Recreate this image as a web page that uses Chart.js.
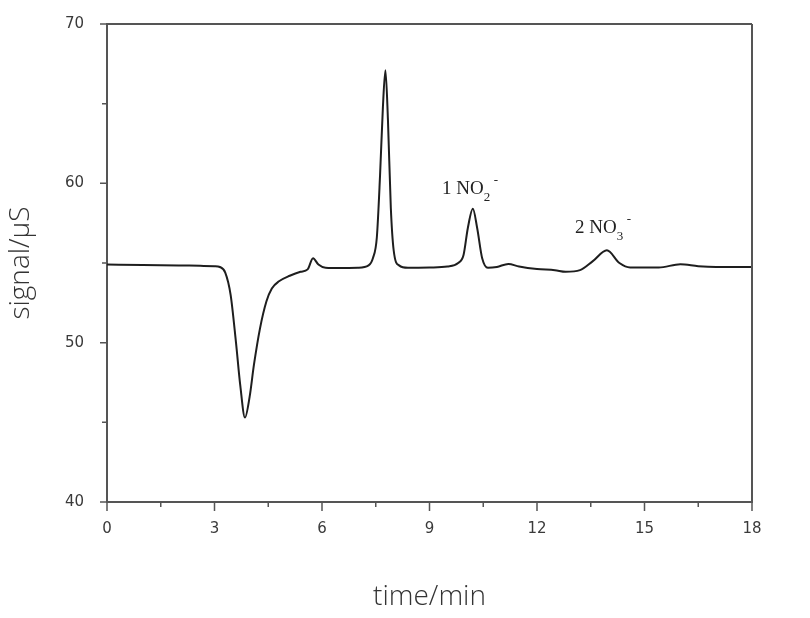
<!DOCTYPE html>
<html lang="en">
<head>
    <meta charset="UTF-8">
    <title>Ion chromatogram</title>
    <script src="https://cdn.jsdelivr.net/npm/chart.js"></script>
    <style>
        body { margin: 0; background: #fff; }
    </style>
</head>
<body>
    <canvas id="chromChart" width="810" height="618"></canvas>

    <script>
        // time (min) and signal (uS)
        const timeMin = [0, 1, 2, 2.6, 3.0, 3.15, 3.3, 3.45, 3.6, 3.72, 3.85, 3.98, 4.1, 4.27, 4.45, 4.6, 4.8, 5.1, 5.4, 5.6,
            5.75, 5.9, 6.1, 6.5, 7.0, 7.3, 7.42, 7.53, 7.62, 7.7, 7.77, 7.84, 7.92, 8.0, 8.15, 8.4, 9.0, 9.5, 9.8, 9.95,
            10.07, 10.21, 10.33, 10.47, 10.63, 10.88, 11.2, 11.5, 12.0, 12.5, 12.8, 13.2, 13.55, 13.95, 14.3, 14.6, 15.4, 16.0, 16.5, 17, 18];
        const signal = [54.9, 54.88, 54.85, 54.82, 54.8, 54.75, 54.4, 53.0, 50.0, 47.3, 45.3, 46.6, 48.6, 50.9, 52.6, 53.4, 53.85, 54.2, 54.45, 54.6,
            55.3, 54.9, 54.7, 54.68, 54.7, 54.85, 55.3, 56.6, 60.5, 64.8, 67.1, 64.0, 58.5, 55.8, 54.85, 54.7, 54.72, 54.78, 55.0, 55.5,
            57.2, 58.4, 57.2, 55.3, 54.7, 54.75, 54.94, 54.78, 54.62, 54.55, 54.45, 54.55, 55.1, 55.8, 55.0, 54.72, 54.72, 54.92, 54.8, 54.75, 54.75];

        const xTicksMajor = [0, 3, 6, 9, 12, 15, 18];
        const xTicksMinor = [1.5, 4.5, 7.5, 10.5, 13.5, 16.5];
        const yTicksMajor = [40, 50, 60, 70];
        const yTicksMinor = [45, 55, 65];

        // peak labels: number, ion, subscript, anchor (time, signal)
        const peakNum = ['1', '2'];
        const peakIon = ['NO', 'NO'];
        const peakSub = ['2', '3'];
        const peakAt = [[9.35, 59.31], [13.06, 56.875]];

        const points = timeMin.map((t, i) => ({ x: t, y: signal[i] }));

        // frame, tick marks and peak labels
        const framePlugin = {
            id: 'frame',
            afterDraw(chart) {
                const c = chart.ctx;
                const a = chart.chartArea;
                const xs = chart.scales.x, ys = chart.scales.y;
                c.save();
                c.strokeStyle = '#555';
                c.lineWidth = 2;
                c.beginPath();
                c.moveTo(a.left, a.top); c.lineTo(a.right, a.top);
                c.moveTo(a.right, a.top); c.lineTo(a.right, a.bottom);
                c.stroke();

                c.lineWidth = 1.5;
                c.beginPath();
                xTicksMajor.forEach(v => { const p = xs.getPixelForValue(v); c.moveTo(p, a.bottom); c.lineTo(p, a.bottom + 9); });
                xTicksMinor.forEach(v => { const p = xs.getPixelForValue(v); c.moveTo(p, a.bottom); c.lineTo(p, a.bottom + 5); });
                yTicksMajor.forEach(v => { const p = ys.getPixelForValue(v); c.moveTo(a.left, p); c.lineTo(a.left - 7, p); });
                yTicksMinor.forEach(v => { const p = ys.getPixelForValue(v); c.moveTo(a.left, p); c.lineTo(a.left - 5, p); });
                c.stroke();

                c.fillStyle = '#222';
                c.textBaseline = 'alphabetic';
                peakAt.forEach((pos, i) => {
                    let px = xs.getPixelForValue(pos[0]);
                    const py = ys.getPixelForValue(pos[1]);
                    c.font = '19px "Liberation Serif", serif';
                    const main = peakNum[i] + ' ' + peakIon[i];
                    c.fillText(main, px, py);
                    px += c.measureText(main).width;
                    c.font = '13px "Liberation Serif", serif';
                    c.fillText(peakSub[i], px, py + 7);
                    c.fillText('-', px + 10, py - 10);
                });
                c.restore();
            }
        };

        const ctx = document.getElementById('chromChart').getContext('2d');
        new Chart(ctx, {
            type: 'line',
            data: {
                datasets: [{
                    data: points,
                    borderColor: '#1e1e1e',
                    borderWidth: 2,
                    pointRadius: 0,
                    cubicInterpolationMode: 'monotone',
                    fill: false
                }]
            },
            options: {
                responsive: false,
                animation: false,
                layout: { padding: { top: 22, right: 58, left: 0, bottom: 0 } },
                plugins: { legend: { display: false }, tooltip: { enabled: false } },
                scales: {
                    x: {
                        type: 'linear',
                        min: 0,
                        max: 18,
                        afterFit: s => { s.height = 116; },
                        afterBuildTicks: s => { s.ticks = xTicksMajor.map(v => ({ value: v })); },
                        grid: { display: false },
                        border: { color: '#555', width: 2 },
                        ticks: { padding: 10, color: '#3a3a3a', font: { family: '"DejaVu Sans", Arial', size: 15 }, maxRotation: 0 },
                        title: {
                            display: true,
                            text: 'time/min',
                            color: '#333',
                            font: { family: '"Open Sans"', size: 28, weight: 300 },
                            padding: { top: 0, bottom: 4 }
                        }
                    },
                    y: {
                        min: 40,
                        max: 70,
                        afterFit: s => { s.width = 107; },
                        afterBuildTicks: s => { s.ticks = yTicksMajor.map(v => ({ value: v })); },
                        grid: { display: false },
                        border: { color: '#555', width: 2 },
                        ticks: { padding: 15, color: '#3a3a3a', font: { family: '"DejaVu Sans", Arial', size: 15 } },
                        title: {
                            display: true,
                            text: 'signal/μS',
                            color: '#333',
                            font: { family: '"Open Sans"', size: 28, weight: 300 },
                            padding: { top: 4, bottom: 0 }
                        }
                    }
                }
            },
            plugins: [framePlugin]
        });
    </script>
</body>
</html>
